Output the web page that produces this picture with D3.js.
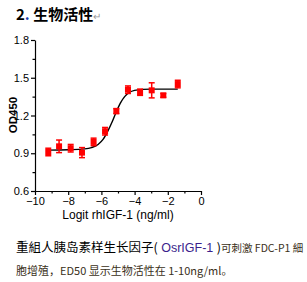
<!DOCTYPE html>
<html>
<head>
<meta charset="utf-8">
<script src="https://cdn.jsdelivr.net/npm/d3@7"></script>
<style>
  body { margin: 0; background: #fff; }
  svg { display: block; }
  .tick text { font-family: "Liberation Sans", Arial, sans-serif; font-size: 11px; fill: #000; }
</style>
</head>
<body>
<div id="chart"></div>
<script>
// measured points (log conc, OD450, error)
const logConc = [-9.2, -8.55, -7.85, -7.17, -6.47, -5.78, -5.1, -4.4, -3.67, -2.97, -2.27, -1.4];
const od450   = [0.91, 0.955, 0.94, 0.905, 0.99, 1.075, 1.235, 1.405, 1.385, 1.40, 1.36, 1.45];
const errs    = [0.03, 0.05, 0.03, 0.04, 0.03, 0.03, 0.02, 0.03, 0.025, 0.06, 0.015, 0.03];
// fitted curve
const fitX = [-9.2, -8, -7, -6.6, -6.2, -5.9, -5.6, -5.35, -5.1, -4.85, -4.6, -4.3, -4, -3.5, -3, -2, -1.4];
const fitY = [0.925, 0.928, 0.935, 0.945, 0.97, 1.01, 1.08, 1.15, 1.23, 1.30, 1.35, 1.385, 1.40, 1.408, 1.41, 1.41, 1.41];
const xTicks = [-10, -8, -6, -4, -2, 0];
const yTicks = [0.6, 0.9, 1.2, 1.5, 1.8];

const W = 307, H = 282;
const svg = d3.select("#chart").append("svg").attr("width", W).attr("height", H);

const x = d3.scaleLinear().domain([-10, 0]).range([35, 201]);
const y = d3.scaleLinear().domain([0.6, 1.8]).range([191, 40]);

// title
const title = svg.append("text").attr("x", 16).attr("y", 20)
  .attr("font-family", "'Noto Sans CJK SC', sans-serif").attr("font-weight", "bold").attr("font-size", 15);
title.append("tspan").attr("fill", "#000").text("2");
title.append("tspan").attr("fill", "#1a3fb0").text(". ");
title.append("tspan").attr("fill", "#000").text("生物活性");
title.append("tspan").attr("fill", "#999").attr("font-weight", "normal").attr("font-size", 10).text("↵");

// axes
svg.append("g").attr("transform", "translate(0,191)")
  .call(d3.axisBottom(x).tickValues(xTicks).tickSize(4).tickSizeOuter(0).tickPadding(2));
svg.append("g").attr("transform", "translate(0,191)")
  .call(d3.axisBottom(x).tickValues(d3.range(-9, 0, 2)).tickSize(2.5).tickFormat("").tickSizeOuter(0))
  .select(".domain").remove();
svg.append("g").attr("transform", "translate(35,0)")
  .call(d3.axisLeft(y).tickValues(yTicks).tickSize(4).tickSizeOuter(0).tickPadding(2).tickFormat(d3.format(".1f")));
svg.append("g").attr("transform", "translate(35,0)")
  .call(d3.axisLeft(y).tickValues([0.75, 1.05, 1.35, 1.65]).tickSize(2.5).tickFormat(""))
  .select(".domain").remove();
svg.selectAll(".domain, .tick line").attr("stroke", "#000").attr("stroke-width", 1.2);

svg.append("text").attr("transform", "translate(17,115) rotate(-90)")
  .attr("text-anchor", "middle").attr("font-family", "'Liberation Sans', Arial, sans-serif")
  .attr("font-weight", "bold").attr("font-size", 11.5).text("OD450");
svg.append("text").attr("x", 118).attr("y", 219)
  .attr("text-anchor", "middle").attr("font-family", "'Liberation Sans', Arial, sans-serif")
  .attr("font-size", 12).attr("fill", "#000").text("Logit rhIGF-1 (ng/ml)");

// fit curve
const fit = fitX.map((v, i) => [v, fitY[i]]);
svg.append("path").datum(fit)
  .attr("fill", "none").attr("stroke", "#000").attr("stroke-width", 1.4)
  .attr("d", d3.line().x(d => x(d[0])).y(d => y(d[1])).curve(d3.curveMonotoneX));

// error bars + markers
const pts = logConc.map((v, i) => ({ x: v, y: od450[i], e: errs[i] }));
const g = svg.append("g").attr("stroke", "#ff0000").attr("stroke-width", 1.5);
g.selectAll("line.v").data(pts).join("line")
  .attr("x1", d => x(d.x)).attr("x2", d => x(d.x))
  .attr("y1", d => y(d.y + d.e)).attr("y2", d => y(d.y - d.e));
g.selectAll("line.t").data(pts).join("line")
  .attr("x1", d => x(d.x) - 3).attr("x2", d => x(d.x) + 3)
  .attr("y1", d => y(d.y + d.e)).attr("y2", d => y(d.y + d.e));
g.selectAll("line.b").data(pts).join("line")
  .attr("x1", d => x(d.x) - 3).attr("x2", d => x(d.x) + 3)
  .attr("y1", d => y(d.y - d.e)).attr("y2", d => y(d.y - d.e));
svg.append("g").selectAll("rect").data(pts).join("rect")
  .attr("x", d => x(d.x) - 3).attr("y", d => y(d.y) - 3)
  .attr("width", 6).attr("height", 6).attr("fill", "#ff0000");

// caption
const cap1 = svg.append("text").attr("x", 16).attr("y", 252)
  .attr("font-family", "'Noto Sans CJK SC', sans-serif").attr("font-size", 12.5).attr("fill", "#000");
cap1.append("tspan").text("重組人胰岛素样生长因子(");
cap1.append("tspan").attr("fill", "#3b1f8c").attr("font-family", "'Liberation Sans', Arial, sans-serif").text(" OsrIGF-1 ");
cap1.append("tspan").text(")");
cap1.append("tspan").attr("font-size", 10.5).attr("fill", "#3a3020").text("可刺激 FDC-P1 細");

svg.append("text").attr("x", 16).attr("y", 275)
  .attr("font-family", "'Noto Sans CJK SC', sans-serif").attr("font-size", 11).attr("fill", "#3a3020")
  .text("胞增殖，ED50 显示生物活性在 1-10ng/ml。");
</script>
</body>
</html>
